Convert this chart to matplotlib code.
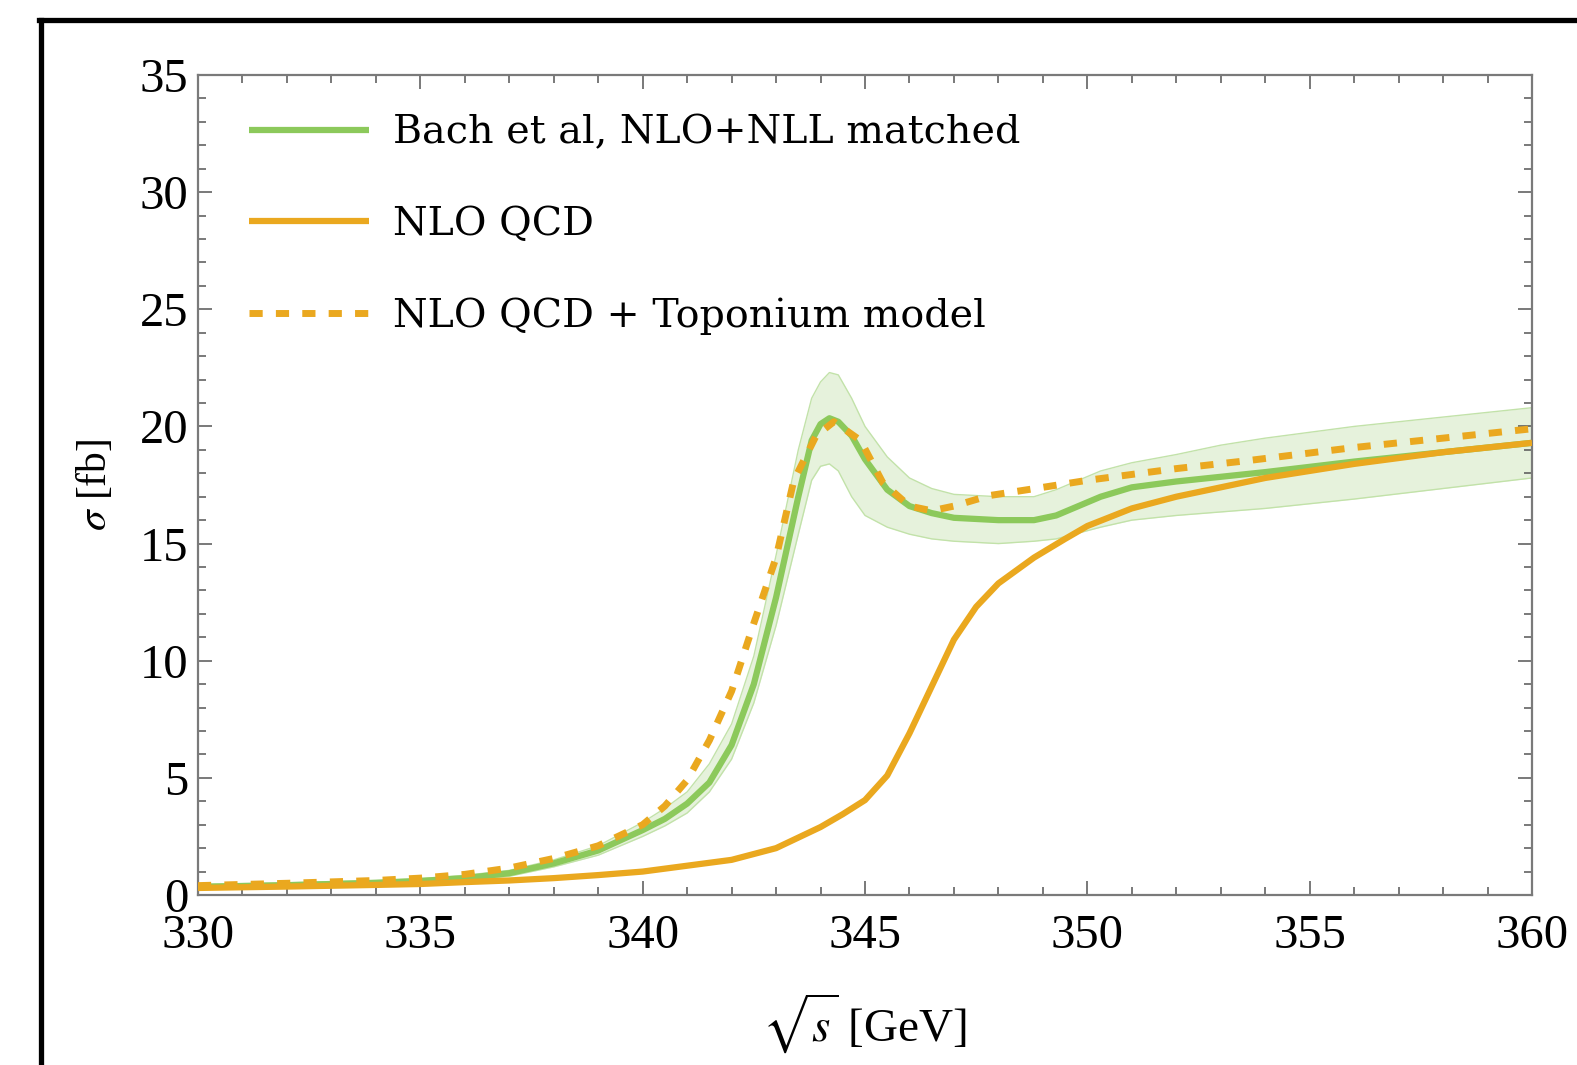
import numpy as np
import matplotlib
matplotlib.use("Agg")
import matplotlib.pyplot as plt
from matplotlib.lines import Line2D
from matplotlib.ticker import MultipleLocator

plt.rcParams['font.family'] = ['Liberation Serif', 'DejaVu Serif']
plt.rcParams['mathtext.fontset'] = 'stix'

# --- donnees ---
# Bach et al, NLO+NLL matched (ligne centrale + bande d'incertitude)
x_bach = [330, 332, 334, 335, 336, 337, 338, 339, 340, 340.5, 341, 341.5, 342, 342.5,
          343, 343.5, 343.8, 344.0, 344.2, 344.4, 344.7, 345, 345.5, 346, 346.5, 347,
          348, 348.8, 349.3, 349.8, 350.3, 351, 352, 353, 354, 356, 358, 360]
y_bach = [0.35, 0.42, 0.52, 0.6, 0.72, 0.93, 1.35, 1.9, 2.77, 3.25, 3.9, 4.8, 6.4, 9.0,
          12.7, 17.0, 19.4, 20.1, 20.35, 20.2, 19.6, 18.6, 17.3, 16.6, 16.3, 16.1,
          16.0, 16.0, 16.2, 16.6, 17.0, 17.4, 17.65, 17.85, 18.05, 18.5, 18.9, 19.3]
y_bach_hi = [0.45, 0.52, 0.62, 0.7, 0.84, 1.05, 1.5, 2.1, 3.1, 3.7, 4.4, 5.6, 7.3, 10.2,
             14.5, 19.0, 21.2, 21.9, 22.3, 22.2, 21.2, 20.0, 18.7, 17.8, 17.35, 17.1,
             17.0, 17.0, 17.3, 17.7, 18.1, 18.45, 18.8, 19.2, 19.5, 20.0, 20.4, 20.8]
y_bach_lo = [0.3, 0.35, 0.44, 0.5, 0.62, 0.8, 1.2, 1.7, 2.5, 2.95, 3.5, 4.4, 5.8, 8.2,
             11.5, 15.4, 17.7, 18.3, 18.4, 18.1, 17.0, 16.2, 15.7, 15.4, 15.2, 15.1,
             15.0, 15.1, 15.2, 15.45, 15.7, 16.0, 16.2, 16.35, 16.5, 16.9, 17.35, 17.8]

# NLO QCD
x_nlo = [330, 332, 334, 335, 336, 337, 338, 339, 340, 341, 342, 343, 343.5, 344, 344.5,
         345, 345.5, 346, 346.5, 347, 347.5, 348, 348.8, 349.5, 350, 351, 352, 353,
         354, 356, 358, 360]
y_nlo = [0.3, 0.36, 0.43, 0.47, 0.55, 0.62, 0.72, 0.85, 1.0, 1.25, 1.5, 2.0, 2.45, 2.9,
         3.45, 4.05, 5.1, 6.9, 8.9, 10.9, 12.3, 13.3, 14.4, 15.2, 15.75, 16.5, 17.0,
         17.4, 17.8, 18.4, 18.9, 19.3]

# NLO QCD + modele toponium
x_topo = [330, 332, 334, 335, 336, 337, 338, 339, 340, 340.5, 341, 341.5, 342, 342.5,
          343, 343.4, 343.9, 344.3, 344.9, 345.4, 346, 346.5, 347, 347.8, 349, 350,
          352, 353.65, 356, 358, 360]
y_topo = [0.4, 0.5, 0.62, 0.72, 0.88, 1.15, 1.56, 2.1, 3.0, 3.8, 4.9, 6.6, 8.7, 11.6,
          14.4, 17.7, 19.6, 20.2, 19.4, 17.6, 16.6, 16.4, 16.6, 17.05, 17.4, 17.7,
          18.2, 18.55, 19.1, 19.5, 19.9]

labels = ["Bach et al, NLO+NLL matched", "NLO QCD", "NLO QCD + Toponium model"]

vert = '#8cc95b'
orange = '#eaa81f'

fig = plt.figure(figsize=(15.77, 10.65), dpi=100)
ax = fig.add_axes([198/1577, 1-895/1065, (1532-198)/1577, (895-75)/1065])

# bande d'incertitude
ax.fill_between(x_bach, y_bach_lo, y_bach_hi, color='#e6f2dc', lw=0, zorder=1)
ax.plot(x_bach, y_bach_hi, color='#c2e2a9', lw=1.0, zorder=1.5)
ax.plot(x_bach, y_bach_lo, color='#c2e2a9', lw=1.0, zorder=1.5)

ax.plot(x_bach, y_bach, color=vert, lw=4.5, label=labels[0], zorder=2,
        solid_capstyle='butt', solid_joinstyle='round')
ax.plot(x_nlo, y_nlo, color=orange, lw=4.5, label=labels[1], zorder=3,
        solid_capstyle='butt', solid_joinstyle='round')
ax.plot(x_topo, y_topo, color=orange, lw=5, dashes=(1.9, 1.9), label=labels[2],
        zorder=4, dash_capstyle='butt')

ax.set_xlim(330, 360)
ax.set_ylim(0, 35)
ax.xaxis.set_major_locator(MultipleLocator(5))
ax.xaxis.set_minor_locator(MultipleLocator(1))
ax.yaxis.set_major_locator(MultipleLocator(5))
ax.yaxis.set_minor_locator(MultipleLocator(1))

for s in ax.spines.values():
    s.set_color('#7a7a7a')
    s.set_linewidth(1.6)
ax.tick_params(which='both', direction='in', top=True, right=True, color='#555555',
               width=1.1)
ax.tick_params(which='major', length=10)
ax.tick_params(which='minor', length=6)
ax.tick_params(axis='x', which='major', labelsize=35, pad=14)
ax.tick_params(axis='y', which='major', labelsize=35, pad=7)

ax.set_xlabel(r"$\sqrt{s}$ [GeV]", fontsize=34, labelpad=24)
ax.set_ylabel(r"$\sigma$ [fb]", fontsize=30, labelpad=18)

ax.legend(loc='upper left', bbox_to_anchor=(0.038, 0.952), frameon=False,
          prop={'family': 'DejaVu Serif', 'size': 28.5}, handlelength=3.05,
          handletextpad=0.6, labelspacing=1.38, borderaxespad=0, borderpad=0)

# cadre noir autour de la figure
fig.add_artist(Line2D([41/1577, 41/1577], [0, 1-20/1065], color='black', lw=3.8,
                      transform=fig.transFigure))
fig.add_artist(Line2D([39/1577, 1], [1-20/1065, 1-20/1065], color='black', lw=3.8,
                      transform=fig.transFigure))

plt.savefig('out.png', dpi=100)
